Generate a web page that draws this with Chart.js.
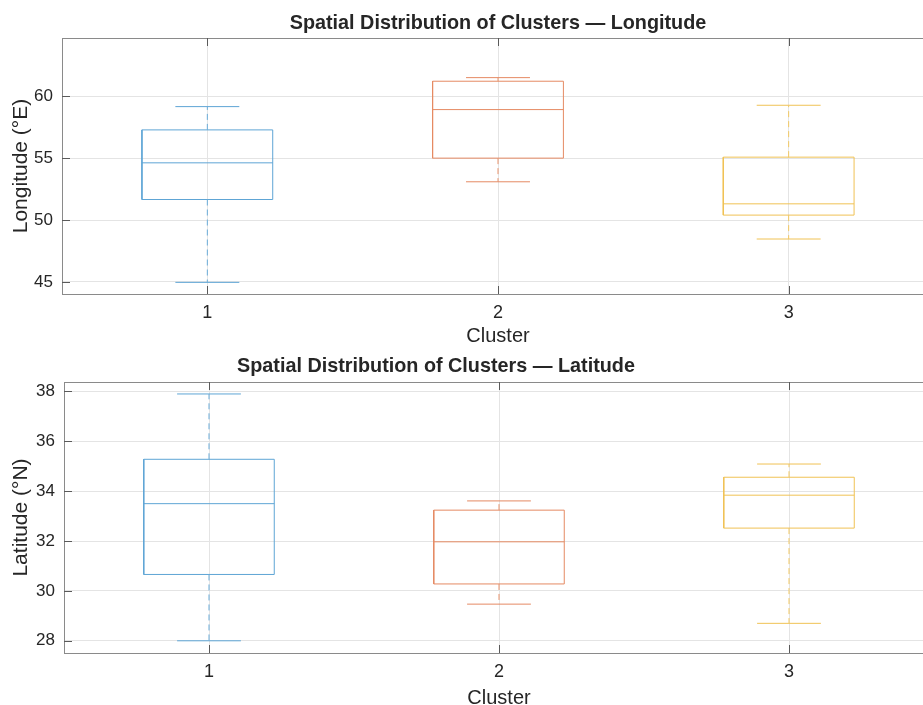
<!DOCTYPE html>
<html>
<head>
<meta charset="utf-8">
<script src="https://cdn.jsdelivr.net/npm/chart.js@4.4.1/dist/chart.umd.min.js"></script>
<style>
  html, body { margin: 0; padding: 0; background: #fff; overflow: hidden; }
  #page { position: relative; width: 923px; height: 705px; overflow: hidden; }
  .panel { position: absolute; left: 0; }
  .title {
    position: absolute;
    font: bold 19.8px 'Liberation Sans', Arial, sans-serif;
    line-height: 20px;
    color: #262626;
    white-space: nowrap;
    transform: translateX(-50%);
  }
</style>
</head>
<body>
<div id="page">
  <div class="panel" style="top:0"><canvas id="lonChart" width="940" height="350"></canvas></div>
  <div class="panel" style="top:350px"><canvas id="latChart" width="940" height="370"></canvas></div>
  <div class="title" style="left:498px;top:12px">Spatial Distribution of Clusters — Longitude</div>
  <div class="title" style="left:436px;top:355px">Spatial Distribution of Clusters — Latitude</div>
</div>
<script>
// box plot summaries per cluster: whisker ends, quartiles, median
const clusters = [1, 2, 3];

const lonMin = [44.97, 53.09, 48.47];
const lonQ1  = [51.66, 55.00, 50.40];
const lonMed = [54.62, 58.92, 51.31];
const lonQ3  = [57.28, 61.21, 55.08];
const lonMax = [59.16, 61.50, 59.27];
const lonTicks = [45, 50, 55, 60];
const lonLimits = [44.03, 64.7];

const latMin = [28.00, 29.47, 28.70];
const latQ1  = [30.66, 30.28, 32.52];
const latMed = [33.50, 31.97, 33.84];
const latQ3  = [35.28, 33.24, 34.56];
const latMax = [37.90, 33.61, 35.09];
const latTicks = [28, 30, 32, 34, 36, 38];
const latLimits = [27.51, 38.38];

const colors = ['#5ea5d5', '#e58a63', '#f0c254'];
const whiskerColors = ['#6aacd9', '#e8936d', '#f2c862'];

const FONT = "'Liberation Sans', Arial, sans-serif";
const TEXT = '#262626';
const BOX_HALF = 0.225;
const CAP_HALF = 0.11;
const TICK_LEN = 8;

function seg(x1, y1, x2, y2) {
    return [{ x: x1, y: y1 }, { x: x2, y: y2 }];
}

function boxDatasets(mins, q1s, meds, q3s, maxs) {
    const sets = [];
    clusters.forEach((c, i) => {
        const base = { borderColor: colors[i], borderWidth: 1, pointRadius: 0, showLine: true, fill: false, tension: 0 };
        const dashed = { ...base, borderColor: whiskerColors[i], borderDash: [6, 4] };
        // whiskers first so the box sits on top
        sets.push({ ...dashed, data: seg(c, q3s[i], c, maxs[i]) });
        sets.push({ ...dashed, data: seg(c, q1s[i], c, mins[i]) });
        // caps
        sets.push({ ...base, data: seg(c - CAP_HALF, maxs[i], c + CAP_HALF, maxs[i]) });
        sets.push({ ...base, data: seg(c - CAP_HALF, mins[i], c + CAP_HALF, mins[i]) });
        // box outline
        sets.push({ ...base, data: [
            { x: c - BOX_HALF, y: q1s[i] }, { x: c + BOX_HALF, y: q1s[i] },
            { x: c + BOX_HALF, y: q3s[i] }, { x: c - BOX_HALF, y: q3s[i] },
            { x: c - BOX_HALF, y: q1s[i] }
        ] });
        // median
        sets.push({ ...base, data: seg(c - BOX_HALF, meds[i], c + BOX_HALF, meds[i]) });
    });
    return sets;
}

// frame around the plot area plus inward tick marks
const axesFrame = {
    id: 'axesFrame',
    afterDraw(chart) {
        const { ctx, chartArea: a, scales } = chart;
        ctx.save();
        ctx.lineWidth = 1;
        ctx.strokeStyle = '#8a8a8a';
        ctx.strokeRect(Math.round(a.left) + 0.5, Math.round(a.top) + 0.5,
            Math.round(a.right - a.left), Math.round(a.bottom - a.top));
        ctx.strokeStyle = '#5a5a5a';
        ctx.beginPath();
        scales.x.ticks.forEach(t => {
            const px = Math.round(scales.x.getPixelForValue(t.value)) + 0.5;
            ctx.moveTo(px, a.bottom); ctx.lineTo(px, a.bottom - TICK_LEN);
            ctx.moveTo(px, a.top); ctx.lineTo(px, a.top + TICK_LEN);
        });
        scales.y.ticks.forEach(t => {
            const py = Math.round(scales.y.getPixelForValue(t.value)) + 0.5;
            ctx.moveTo(a.left, py); ctx.lineTo(a.left + TICK_LEN, py);
            ctx.moveTo(a.right, py); ctx.lineTo(a.right - TICK_LEN, py);
        });
        ctx.stroke();
        ctx.restore();
    }
};

function makeChart(id, datasets, yTitle, yTicks, yLimits, layout) {
    const ctx = document.getElementById(id).getContext('2d');
    return new Chart(ctx, {
        type: 'scatter',
        data: { datasets: datasets },
        plugins: [axesFrame],
        options: {
            responsive: false,
            animation: false,
            events: [],
            layout: { padding: { top: layout.top, right: 6, left: 0, bottom: 0 } },
            plugins: { legend: { display: false }, tooltip: { enabled: false } },
            scales: {
                x: {
                    type: 'linear',
                    min: 0.5,
                    max: 3.5,
                    afterBuildTicks: s => { s.ticks = clusters.map(v => ({ value: v })); },
                    afterFit: s => { s.height = layout.xHeight; },
                    grid: { color: '#e4e4e4', drawTicks: false },
                    border: { display: false },
                    ticks: { color: TEXT, padding: 8, font: { family: FONT, size: 18, lineHeight: 1.25 } },
                    title: {
                        display: true, text: 'Cluster', color: TEXT,
                        font: { family: FONT, size: 20, lineHeight: 1.2 },
                        padding: { top: 0, bottom: layout.xTitlePad }
                    }
                },
                y: {
                    min: yLimits[0],
                    max: yLimits[1],
                    afterBuildTicks: s => { s.ticks = yTicks.map(v => ({ value: v })); },
                    afterFit: s => { s.width = layout.yWidth; },
                    grid: { color: '#e4e4e4', drawTicks: false },
                    border: { display: false },
                    ticks: { color: TEXT, padding: 9, font: { family: FONT, size: 17 } },
                    title: {
                        display: true, text: yTitle, color: TEXT,
                        font: { family: FONT, size: 21, lineHeight: 1.2 },
                        padding: { top: 8.5, bottom: 0 }
                    }
                }
            }
        }
    });
}

makeChart('lonChart', boxDatasets(lonMin, lonQ1, lonMed, lonQ3, lonMax),
    'Longitude (°E)', lonTicks, lonLimits,
    { top: 38, yWidth: 62, xHeight: 56, xTitlePad: 2 });

makeChart('latChart', boxDatasets(latMin, latQ1, latMed, latQ3, latMax),
    'Latitude (°N)', latTicks, latLimits,
    { top: 32, yWidth: 64, xHeight: 67, xTitlePad: 10 });
</script>
</body>
</html>
